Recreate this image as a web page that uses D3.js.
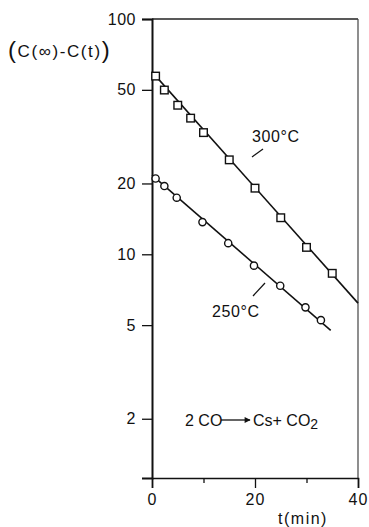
<!DOCTYPE html>
<html lang="en">
<head>
<meta charset="UTF-8">
<script src="https://d3js.org/d3.v7.min.js"></script>
<style>
  body { margin: 0; background: #fff; }
  text { font-family: "Liberation Sans", Arial, sans-serif; fill: #111; }
</style>
</head>
<body>
<svg id="chart" width="369" height="527"></svg>
<script>
// data
const t300 = [0.7, 2.4, 5, 7.5, 10, 15, 20, 25, 30, 35];
const c300 = [57.2, 49.9, 43.0, 37.9, 32.9, 25.2, 19.1, 14.3, 10.7, 8.3];
const t250 = [0.7, 2.4, 4.8, 9.8, 14.8, 19.8, 24.9, 29.8, 32.8];
const c250 = [21.0, 19.5, 17.4, 13.7, 11.15, 8.95, 7.35, 5.95, 5.25];
// fitted straight lines (end points)
const fitT300 = [0, 40], fitC300 = [59.6, 6.2];
const fitT250 = [0, 34.7], fitC250 = [21.7, 4.75];
const yTicks = [100, 50, 20, 10, 5, 2];
const xTicks = [0, 10, 20, 30, 40];
const xLabels = {0: '0', 20: '20', 40: '40'};

const svg = d3.select('#chart');
const x = d3.scaleLinear().domain([0, 40]).range([152, 358]);
const y = d3.scaleLog().domain([1.12, 100]).range([478, 19]);

// frame
svg.append('line').attr('x1', x(0)).attr('x2', x(40)).attr('y1', y(100)).attr('y2', y(100))
  .attr('stroke', '#222').attr('stroke-width', 1.3);
svg.append('line').attr('x1', x(40)).attr('x2', x(40)).attr('y1', y(100)).attr('y2', y(1.12))
  .attr('stroke', '#444').attr('stroke-width', 1.2);

// y axis
const leftAxis = d3.axisLeft(y).tickValues(yTicks).tickFormat(d3.format('d'))
  .tickSize(10).tickPadding(6);
const gy = svg.append('g').attr('transform', `translate(${x(0)},0)`).call(leftAxis);
gy.select('.domain').attr('stroke', '#111').attr('stroke-width', 2);
gy.selectAll('.tick line').attr('stroke', '#111').attr('stroke-width', 1.3);
gy.selectAll('.tick text').style('font-size', '16px').style('letter-spacing', '0.5px')
  .style('font-family', '"Liberation Sans", Arial, sans-serif').attr('fill', '#111');

// x axis
const bottomAxis = d3.axisBottom(x).tickValues(xTicks)
  .tickFormat(d => xLabels[d] || '').tickSize(10).tickPadding(6);
const gx = svg.append('g').attr('transform', `translate(0,${y(1.12)})`).call(bottomAxis);
gx.select('.domain').attr('stroke', '#111').attr('stroke-width', 1.6);
gx.selectAll('.tick line').attr('stroke', '#111').attr('stroke-width', 1.3)
  .attr('y2', d => xLabels[d] ? 10 : 5);
gx.selectAll('.tick text').style('font-size', '16px').style('letter-spacing', '1px')
  .style('font-family', '"Liberation Sans", Arial, sans-serif').attr('fill', '#111');

// axis titles
const yl = svg.append('text').attr('x', 8).attr('y', 58).style('font-size', '17px')
  .style('letter-spacing', '1.6px');
yl.append('tspan').text('(').style('font-size', '24px');
yl.append('tspan').text('C(∞)-C(t)').attr('dy', -1);
yl.append('tspan').text(')').style('font-size', '24px').attr('dy', 1);

svg.append('text').attr('x', 303).attr('y', 524).attr('text-anchor', 'middle')
  .style('font-size', '16px').style('letter-spacing', '1.5px').text('t(min)');

// fitted lines
const line = d3.line().x(d => x(d[0])).y(d => y(d[1]));
svg.append('path').datum(d3.zip(fitT300, fitC300)).attr('d', line)
  .attr('fill', 'none').attr('stroke', '#111').attr('stroke-width', 1.6);
svg.append('path').datum(d3.zip(fitT250, fitC250)).attr('d', line)
  .attr('fill', 'none').attr('stroke', '#111').attr('stroke-width', 1.6);

// markers
svg.selectAll('rect.p300').data(d3.zip(t300, c300)).enter().append('rect')
  .attr('class', 'p300')
  .attr('x', d => x(d[0]) - 3.8).attr('y', d => y(d[1]) - 3.8)
  .attr('width', 7.6).attr('height', 7.6)
  .attr('fill', '#fff').attr('stroke', '#111').attr('stroke-width', 1.4);
svg.selectAll('circle.p250').data(d3.zip(t250, c250)).enter().append('circle')
  .attr('class', 'p250')
  .attr('cx', d => x(d[0])).attr('cy', d => y(d[1])).attr('r', 3.6)
  .attr('fill', '#fff').attr('stroke', '#111').attr('stroke-width', 1.4);

// curve labels with leader strokes
svg.append('text').attr('x', 252).attr('y', 142).style('font-size', '16px')
  .style('letter-spacing', '0.6px').text('300°C');
svg.append('line').attr('x1', 252).attr('y1', 157).attr('x2', 263).attr('y2', 149)
  .attr('stroke', '#111').attr('stroke-width', 1.2);
svg.append('text').attr('x', 212).attr('y', 317).style('font-size', '16px')
  .style('letter-spacing', '0.6px').text('250°C');
svg.append('line').attr('x1', 253).attr('y1', 296).attr('x2', 265).attr('y2', 283)
  .attr('stroke', '#111').attr('stroke-width', 1.2);

// reaction
svg.append('defs').append('marker').attr('id', 'arr')
  .attr('viewBox', '0 0 10 10').attr('refX', 9).attr('refY', 5)
  .attr('markerWidth', 9).attr('markerHeight', 6).attr('markerUnits', 'userSpaceOnUse')
  .attr('orient', 'auto')
  .append('path').attr('d', 'M0,0L10,5L0,10Z').attr('fill', '#111');
svg.append('text').attr('x', 185).attr('y', 426).style('font-size', '16px').text('2 CO');
svg.append('line').attr('x1', 221).attr('y1', 420).attr('x2', 250).attr('y2', 420)
  .attr('stroke', '#111').attr('stroke-width', 1.3).attr('marker-end', 'url(#arr)');
const rx = svg.append('text').attr('x', 253).attr('y', 426).style('font-size', '16px');
rx.append('tspan').text('Cs+ CO');
rx.append('tspan').text('2').attr('dy', 3).style('font-size', '14px');
</script>
</body>
</html>
